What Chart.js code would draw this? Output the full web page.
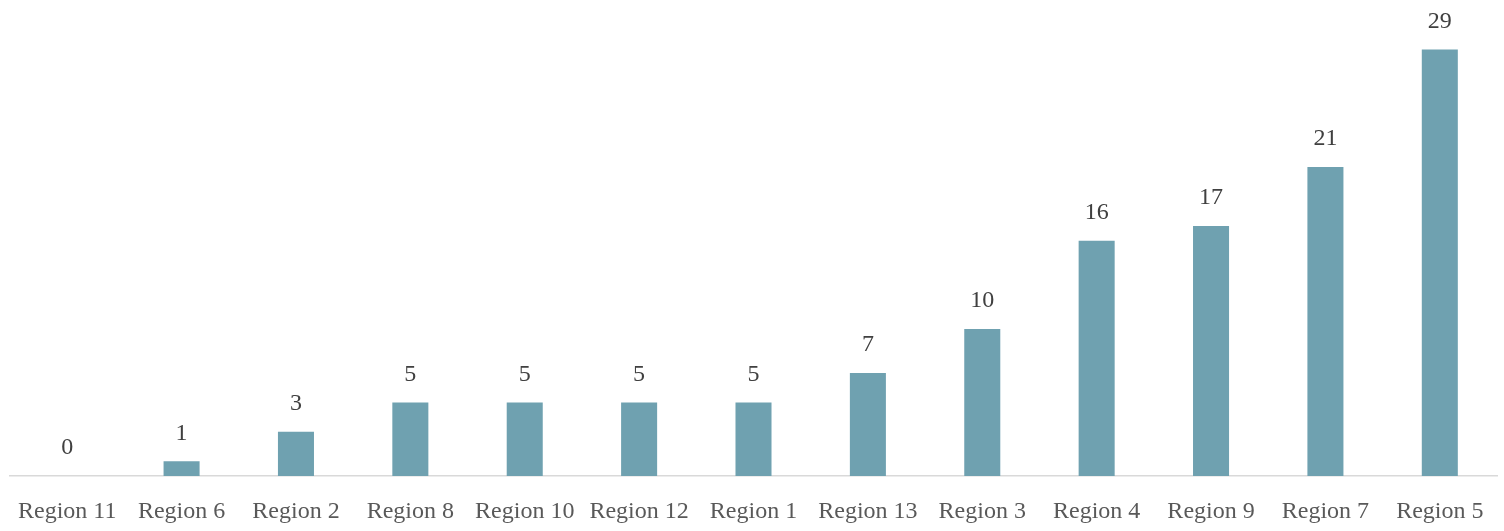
<!DOCTYPE html>
<html>
<head>
<meta charset="utf-8">
<script src="https://cdn.jsdelivr.net/npm/chart.js@4"></script>
<style>
    html, body { margin: 0; padding: 0; background: #fff; overflow: hidden; }
    /* a caixa passa um pouco da janela: o eixo do Chart.js conta o padding duas vezes */
    #box { width: 1504px; height: 548px; }
</style>
</head>
<body>
<div id="box"><canvas id="grafico"></canvas></div>
<script>
// dados
const regioes = ['Region 11', 'Region 6', 'Region 2', 'Region 8', 'Region 10', 'Region 12', 'Region 1', 'Region 13', 'Region 3', 'Region 4', 'Region 9', 'Region 7', 'Region 5']
const valores = [0, 1, 3, 5, 5, 5, 5, 7, 10, 16, 17, 21, 29]

const fonte = '"Liberation Serif", "DejaVu Serif", serif'

// rotulos em cima das barras
const rotulos = {
    id: 'rotulos',
    afterDatasetsDraw(chart) {
        const ctx = chart.ctx
        const meta = chart.getDatasetMeta(0)
        ctx.save()
        ctx.font = '24px ' + fonte
        ctx.fillStyle = '#404040'
        ctx.textAlign = 'center'
        ctx.textBaseline = 'middle'
        meta.data.forEach((bar, i) => {
            ctx.fillText(String(valores[i]), bar.x, bar.y - 28)
        })
        ctx.restore()
    }
}

const ctx = document.getElementById('grafico').getContext('2d')

const grafico = new Chart(ctx, {
    type: 'bar',
    data: {
        labels: regioes,
        datasets: [{
            data: valores,
            backgroundColor: '#6fa1b0',
            borderWidth: 0,
            categoryPercentage: 1,
            barPercentage: 0.315
        }]
    },
    options: {
        responsive: true,
        maintainAspectRatio: false,
        animation: false,
        layout: { padding: { left: 10, right: 7, top: 20, bottom: 0 } },
        plugins: {
            legend: { display: false },
            tooltip: { enabled: false }
        },
        scales: {
            x: {
                grid: { display: false, drawTicks: false },
                border: { display: true, color: '#d9d9d9', width: 1.5 },
                ticks: {
                    color: '#595959',
                    font: { family: fonte, size: 24 },
                    padding: 21.6,
                    maxRotation: 0,
                    autoSkip: false
                },
                // o texto pode passar da area, como no original
                afterFit(escala) {
                    escala.paddingLeft = 0
                    escala.paddingRight = 0
                }
            },
            y: {
                display: false,
                min: 0,
                max: 31
            }
        }
    },
    plugins: [rotulos]
})
</script>
</body>
</html>
